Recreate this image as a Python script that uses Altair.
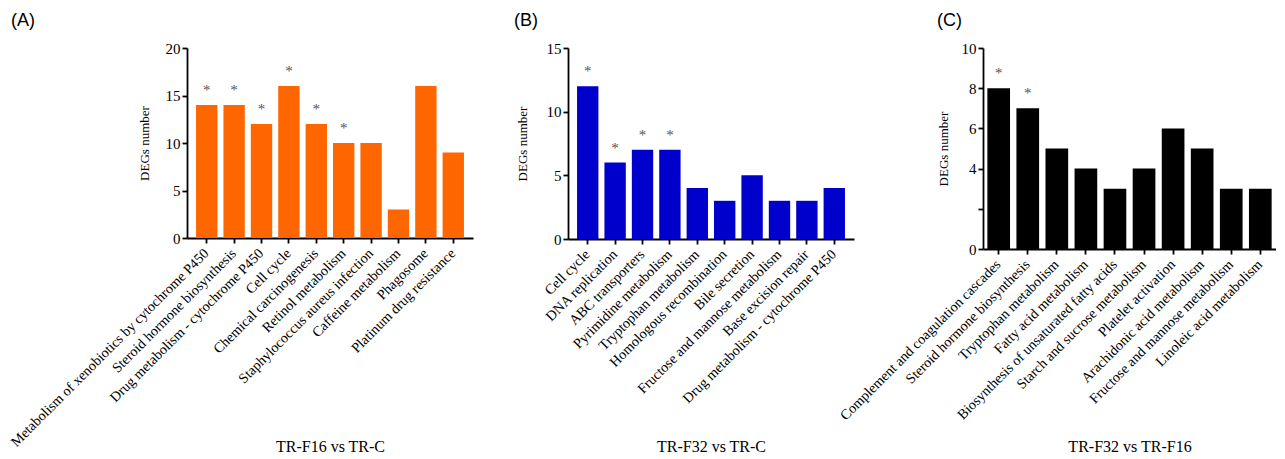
import altair as alt
import pandas as pd

# ---------------- data ----------------
cats_a = [
    "Metabolism of xenobiotics by cytochrome P450",
    "Steroid hormone biosynthesis",
    "Drug metabolism - cytochrome P450",
    "Cell cycle",
    "Chemical carcinogenesis",
    "Retinol metabolism",
    "Staphylococcus aureus infection",
    "Caffeine metabolism",
    "Phagosome",
    "Platinum drug resistance",
]
vals_a = [14, 14, 12, 16, 12, 10, 10, 3, 16, 9]
sig_a = [1, 1, 1, 1, 1, 1, 0, 0, 0, 0]

cats_b = [
    "Cell cycle",
    "DNA replication",
    "ABC transporters",
    "Pyrimidine metabolism",
    "Tryptophan metabolism",
    "Homologous recombination",
    "Bile secretion",
    "Fructose and mannose metabolism",
    "Base excision repair",
    "Drug metabolism - cytochrome P450",
]
vals_b = [12, 6, 7, 7, 4, 3, 5, 3, 3, 4]
sig_b = [1, 1, 1, 1, 0, 0, 0, 0, 0, 0]

cats_c = [
    "Complement and coagulation cascades",
    "Steroid hormone biosynthesis",
    "Tryptophan metabolism",
    "Fatty acid metabolism",
    "Biosynthesis of unsaturated fatty acids",
    "Starch and sucrose metabolism",
    "Platelet activation",
    "Arachidonic acid metabolism",
    "Fructose and mannose metabolism",
    "Linoleic acid metabolism",
]
vals_c = [8, 7, 5, 4, 3, 4, 6, 5, 3, 3]
sig_c = [1, 1, 0, 0, 0, 0, 0, 0, 0, 0]

SERIF = "Liberation Serif"
SANS = "Liberation Sans"


def panel(cats, vals, sig, color, letter, title_dx, xtitle, ymax, yticks,
          width, height, y_title_pad, pad_outer, x_title_y, hide_two=False):
    df = pd.DataFrame({
        "pathway": cats,
        "n": vals,
        "star": ["*" if s else "" for s in sig],
    })
    x_enc = alt.X(
        "pathway:N", sort=cats,
        scale=alt.Scale(paddingInner=0.22, paddingOuter=pad_outer),
        axis=alt.Axis(
            title=xtitle, labelAngle=-45, labelAlign="right",
            labelBaseline="middle", labelFont=SERIF, labelFontSize=14.2,
            labelPadding=8, labelLimit=0, labelColor="black",
            titleFont=SERIF, titleFontSize=16, titleFontWeight="normal",
            titleColor="black", titleY=x_title_y, titleBaseline="alphabetic",
            domainColor="black", domainWidth=1.8, tickColor="black",
            tickWidth=1.8, tickSize=5,
        ),
    )
    y_axis_kwargs = dict(
        title="DEGs number", values=yticks, titleFont=SERIF, titleFontSize=13,
        titleFontWeight="normal", titleColor="black", titlePadding=y_title_pad,
        labelFont=SERIF, labelFontSize=15, labelColor="black", labelPadding=2,
        domainColor="black", domainWidth=1.8, tickColor="black",
        tickWidth=1.8, tickSize=5, grid=False,
    )
    if hide_two:
        y_axis_kwargs["labelExpr"] = "datum.value == 2 ? '' : datum.label"
    y_enc = alt.Y("n:Q", scale=alt.Scale(domain=[0, ymax], nice=False),
                  axis=alt.Axis(**y_axis_kwargs))
    bars = alt.Chart(df).mark_bar(color=color).encode(x=x_enc, y=y_enc)
    stars = (
        alt.Chart(df)
        .transform_filter("datum.star != ''")
        .mark_text(font=SERIF, fontSize=15, fill="#555555",
                   baseline="middle", dy=-15)
        .encode(x=alt.X("pathway:N", sort=cats),
                y=alt.Y("n:Q"), text="star:N")
    )
    return alt.layer(bars, stars).properties(
        width=width, height=height,
        title=alt.TitleParams(letter, anchor="start", frame="group",
                              dx=title_dx, font=SANS, fontSize=18,
                              fontWeight="normal", color="black", offset=11),
    )


def spacer(w, h):
    return (
        alt.Chart(pd.DataFrame({"a": [0]}))
        .mark_point(opacity=0)
        .encode(x=alt.X("a:Q", axis=None), y=alt.Y("a:Q", axis=None))
        .properties(width=w, height=h)
    )


pa = panel(cats_a, vals_a, sig_a, "#FF6600", "(A)", -176, "TR-F16 vs TR-C",
           20, [0, 5, 10, 15, 20], 286, 190, 14, 0.33, 213)
pb = panel(cats_b, vals_b, sig_b, "#0000CC", "(B)", -54, "TR-F32 vs TR-C",
           15, [0, 5, 10, 15], 286, 191, 17, 0.33, 212)
pc = panel(cats_c, vals_c, sig_c, "#000000", "(C)", -46, "TR-F32 vs TR-F16",
           10, [0, 2, 4, 6, 8, 10], 293, 201, 11, 0.15, 202, hide_two=True)

chart = (
    alt.hconcat(pa, spacer(95, 190), pb, spacer(129, 190), pc,
                spacing=0, bounds="flush")
    .resolve_scale(x="independent", y="independent")
    .configure_view(stroke=None)
    .properties(padding={"left": 0, "top": 4, "right": 0, "bottom": 0},
                background="white")
)

chart.save("out.html", embed_options={"renderer": "svg", "actions": False})
